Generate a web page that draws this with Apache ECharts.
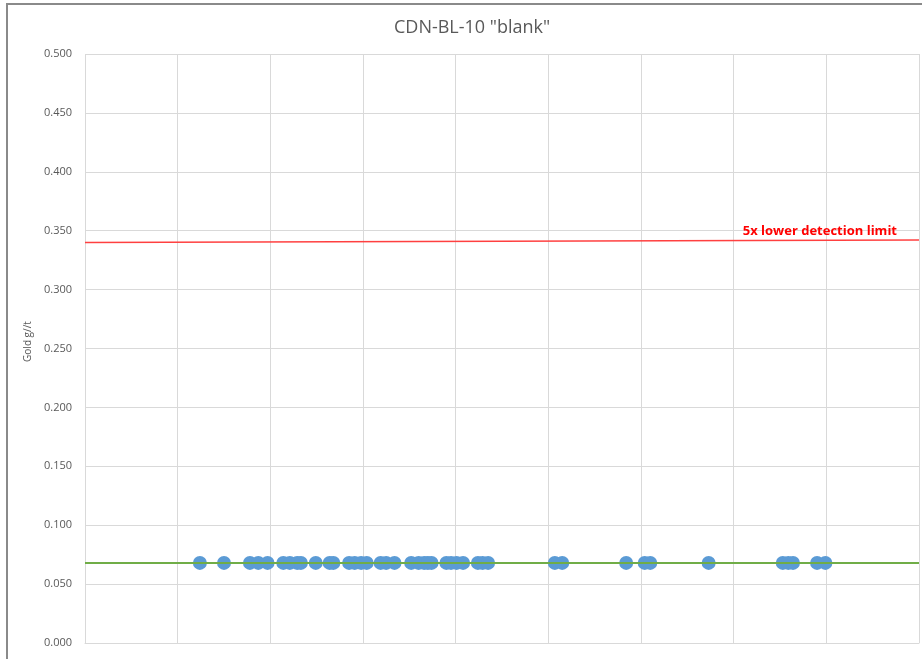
<!DOCTYPE html>
<html>
<head>
    <meta charset="utf-8">
    <script src="https://cdn.jsdelivr.net/npm/echarts@6/dist/echarts.min.js"></script>
    <style>
        body { margin: 0; background: #fff; }
        #main { position: absolute; left: 0; top: 0; width: 922px; height: 659px; }
        /* excel chart frame, only left and top edges are visible */
        #frame { position: absolute; left: 6px; top: 3px; right: 0; bottom: 0;
                 border-left: 2px solid #8a8a8a; border-top: 2px solid #8a8a8a; pointer-events: none; }
    </style>
</head>
<body>
<div id="main"></div>
<div id="frame"></div>
<script>
    // sample positions along the x axis (no labels visible) and assay values
    var sampleX = [12.4, 15.0, 17.8, 18.7, 19.7, 21.4, 22.1, 22.9, 23.3, 24.9,
        26.4, 26.8, 28.5, 29.1, 29.8, 30.4, 31.9, 32.5, 33.4, 35.2,
        36.0, 36.6, 37.0, 37.4, 39.0, 39.5, 40.1, 40.8, 42.4, 42.9,
        43.5, 50.7, 51.5, 58.4, 60.4, 61.0, 67.3, 75.3, 75.9, 76.4,
        79.0, 79.9];
    var goldValue = 0.068;
    // reference lines
    var blankLine = [[0, 0.068], [90, 0.068]];
    var limitLine = [[0, 0.340], [90, 0.342]];
    var limitLabel = '5x lower detection limit';

    var points = sampleX.map(function (x) { return [x, goldValue]; });

    var chart = echarts.init(document.getElementById('main'));
    var option = {
        animation: false,
        title: {
            text: 'CDN-BL-10 "blank"',
            left: 389,
            top: 14,
            textStyle: {
                fontFamily: 'Open Sans',
                fontWeight: 'normal',
                fontSize: 18,
                color: '#595959'
            }
        },
        grid: { left: 85, right: 3, top: 54, bottom: 16 },
        xAxis: {
            type: 'value',
            min: 0,
            max: 90,
            interval: 10,
            axisLine: { show: true, lineStyle: { color: '#d9d9d9', width: 1 } },
            axisTick: { show: false },
            axisLabel: { show: false },
            splitLine: { show: true, lineStyle: { color: '#d9d9d9' } }
        },
        yAxis: {
            type: 'value',
            min: 0,
            max: 0.5,
            interval: 0.05,
            name: 'Gold g//t',
            nameLocation: 'middle',
            nameGap: 52,
            nameTextStyle: { fontFamily: 'Open Sans', fontSize: 10, color: '#595959', padding: [0, 0, 0, 14] },
            axisLine: { show: false },
            axisTick: { show: false },
            axisLabel: {
                margin: 13,
                fontFamily: 'Open Sans',
                fontSize: 11,
                color: '#595959',
                formatter: function (v) { return v.toFixed(3); }
            },
            splitLine: { lineStyle: { color: '#d9d9d9' } }
        },
        series: [
            {
                type: 'scatter',
                data: points,
                symbolSize: 14,
                itemStyle: { color: '#5b9bd5', opacity: 1 },
                z: 2
            },
            {
                type: 'line',
                data: blankLine,
                showSymbol: false,
                lineStyle: { color: '#70ad47', width: 2 },
                z: 3
            },
            {
                type: 'line',
                data: limitLine,
                showSymbol: false,
                lineStyle: { color: '#ff4040', width: 1.5 },
                endLabel: {
                    show: true,
                    formatter: limitLabel,
                    align: 'right',
                    verticalAlign: 'bottom',
                    distance: 0,
                    offset: [-22, -2],
                    fontFamily: 'Open Sans',
                    fontWeight: 'bold',
                    fontSize: 13,
                    color: '#ff0000'
                },
                z: 3
            }
        ]
    };
    chart.setOption(option);
</script>
</body>
</html>
